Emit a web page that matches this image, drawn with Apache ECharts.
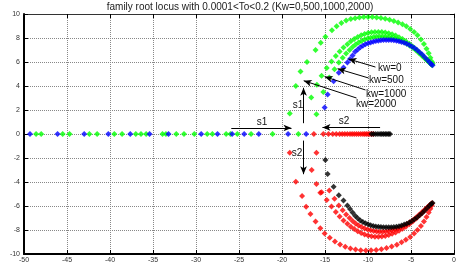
<!DOCTYPE html>
<html>
<head>
<meta charset="utf-8">
<script src="https://cdn.jsdelivr.net/npm/echarts@6/dist/echarts.min.js"></script>
<style>
  html, body { margin: 0; padding: 0; background: #fff; }
  #chart { width: 459px; height: 268px; }
</style>
</head>
<body>
<div id="chart"></div>
<script>
// axis ticks
const xTicks = [-50, 0, 5];   // min, max, step
const yTicks = [-10, 10, 2];

// s1 branch (upper half), one list per kw
const s1Kw0 = [[-15.05,2.2],[-14.7,3.3],[-14.0,4.4],[-13.4,5.1],[-12.85,5.55],[-12.4,5.95],[-12.1,6.25],[-11.8,6.55],[-11.5,6.85],[-11.2,7.05],[-10.9,7.22],[-10.6,7.36],[-10.3,7.47],[-10.0,7.56],[-9.7,7.63],[-9.4,7.69],[-9.1,7.74],[-8.8,7.78],[-8.5,7.81],[-8.2,7.83],[-7.9,7.84],[-7.6,7.84],[-7.3,7.83],[-7.0,7.81],[-6.7,7.78],[-6.4,7.73],[-6.1,7.67],[-5.8,7.6],[-5.5,7.52],[-5.2,7.42],[-4.9,7.3],[-4.6,7.16],[-4.3,7.0],[-4.0,6.82],[-3.7,6.62],[-3.4,6.4],[-3.1,6.17],[-2.85,5.97],[-2.65,5.82],[-2.5,5.72]];
const s1Kw500 = [[-16.0,1.65],[-15.2,3.5],[-14.5,4.7],[-13.9,5.4],[-13.4,5.95],[-12.95,6.35],[-12.55,6.7],[-12.15,7.0],[-11.8,7.25],[-11.45,7.45],[-11.1,7.62],[-10.75,7.76],[-10.4,7.87],[-10.05,7.96],[-9.7,8.03],[-9.35,8.08],[-9.0,8.11],[-8.65,8.13],[-8.3,8.13],[-7.95,8.11],[-7.6,8.08],[-7.25,8.03],[-6.9,7.96],[-6.55,7.88],[-6.2,7.78],[-5.85,7.66],[-5.5,7.52],[-5.15,7.36],[-4.8,7.18],[-4.45,6.98],[-4.1,6.76],[-3.75,6.53],[-3.4,6.3],[-3.1,6.1],[-2.85,5.93],[-2.6,5.78]];
const s1Kw1000 = [[-16.6,3.05],[-15.95,4.1],[-15.4,4.85],[-14.8,5.5],[-14.25,6.05],[-13.75,6.5],[-13.3,6.88],[-12.85,7.2],[-12.4,7.48],[-12.0,7.72],[-11.6,7.92],[-11.2,8.08],[-10.8,8.22],[-10.4,8.33],[-10.0,8.41],[-9.6,8.47],[-9.2,8.5],[-8.8,8.51],[-8.4,8.5],[-8.0,8.46],[-7.6,8.4],[-7.2,8.31],[-6.8,8.2],[-6.4,8.07],[-6.0,7.91],[-5.6,7.73],[-5.2,7.52],[-4.8,7.29],[-4.4,7.04],[-4.0,6.78],[-3.65,6.53],[-3.3,6.28],[-3.0,6.06],[-2.75,5.88],[-2.55,5.76]];
const s1Kw2000 = [[-19.1,1.7],[-18.4,4.0],[-17.85,5.2],[-17.1,6.0],[-16.1,7.0],[-15.5,7.6],[-14.95,8.1],[-14.2,8.65],[-13.65,8.98],[-13.1,9.25],[-12.55,9.45],[-12.0,9.58],[-11.5,9.65],[-11.0,9.71],[-10.5,9.74],[-10.0,9.75],[-9.5,9.74],[-9.0,9.71],[-8.5,9.66],[-8.0,9.6],[-7.5,9.52],[-7.0,9.42],[-6.5,9.3],[-6.0,9.15],[-5.55,8.97],[-5.1,8.75],[-4.65,8.5],[-4.25,8.22],[-3.85,7.88],[-3.5,7.5],[-3.2,7.1],[-2.95,6.72],[-2.75,6.35],[-2.6,6.05],[-2.5,5.85]];

// s2 branch (lower half)
const s2Kw0 = [[-14.96,-2.17],[-14.7,-3.33],[-14.0,-4.4],[-13.4,-5.1],[-12.85,-5.55],[-12.4,-5.95],[-12.1,-6.25],[-11.8,-6.55],[-11.5,-6.82],[-11.2,-7.02],[-10.9,-7.2],[-10.6,-7.33],[-10.3,-7.44],[-10.0,-7.53],[-9.7,-7.6],[-9.4,-7.66],[-9.1,-7.7],[-8.8,-7.73],[-8.5,-7.75],[-8.2,-7.77],[-7.9,-7.78],[-7.6,-7.78],[-7.3,-7.77],[-7.0,-7.75],[-6.7,-7.72],[-6.4,-7.68],[-6.1,-7.62],[-5.8,-7.55],[-5.5,-7.47],[-5.2,-7.37],[-4.9,-7.25],[-4.6,-7.11],[-4.3,-6.95],[-4.0,-6.78],[-3.7,-6.58],[-3.4,-6.37],[-3.1,-6.15],[-2.85,-5.95],[-2.65,-5.82],[-2.5,-5.75]];
const s2Kw500 = [[-16.0,-1.56],[-15.55,-4.9],[-14.5,-4.7],[-13.9,-5.4],[-13.4,-5.95],[-12.95,-6.35],[-12.55,-6.7],[-12.15,-7.0],[-11.8,-7.25],[-11.45,-7.45],[-11.1,-7.62],[-10.75,-7.76],[-10.4,-7.87],[-10.05,-7.96],[-9.7,-8.03],[-9.35,-8.08],[-9.0,-8.12],[-8.65,-8.14],[-8.3,-8.14],[-7.95,-8.12],[-7.6,-8.08],[-7.25,-8.03],[-6.9,-7.96],[-6.55,-7.88],[-6.2,-7.78],[-5.85,-7.66],[-5.5,-7.52],[-5.15,-7.36],[-4.8,-7.18],[-4.45,-6.98],[-4.1,-6.76],[-3.75,-6.53],[-3.4,-6.3],[-3.1,-6.1],[-2.85,-5.93],[-2.6,-5.8]];
const s2Kw1000 = [[-16.55,-3.0],[-16.0,-4.17],[-15.4,-4.85],[-14.8,-5.5],[-14.25,-6.05],[-13.75,-6.5],[-13.3,-6.88],[-12.85,-7.2],[-12.4,-7.48],[-12.0,-7.72],[-11.6,-7.92],[-11.2,-8.1],[-10.8,-8.25],[-10.4,-8.37],[-10.0,-8.46],[-9.6,-8.52],[-9.2,-8.56],[-8.8,-8.57],[-8.4,-8.55],[-8.0,-8.5],[-7.6,-8.42],[-7.2,-8.32],[-6.8,-8.2],[-6.4,-8.06],[-6.0,-7.9],[-5.6,-7.72],[-5.2,-7.52],[-4.8,-7.29],[-4.4,-7.04],[-4.0,-6.78],[-3.65,-6.53],[-3.3,-6.28],[-3.0,-6.06],[-2.75,-5.9],[-2.55,-5.78]];
const s2Kw2000 = [[-19.1,-1.56],[-18.4,-3.97],[-17.67,-5.17],[-17.2,-6.06],[-16.7,-6.67],[-16.1,-7.3],[-15.55,-7.85],[-15.05,-8.3],[-14.45,-8.65],[-13.85,-8.95],[-13.25,-9.2],[-12.65,-9.4],[-12.05,-9.54],[-11.45,-9.63],[-10.85,-9.68],[-10.25,-9.7],[-9.65,-9.69],[-9.05,-9.66],[-8.45,-9.6],[-7.85,-9.51],[-7.25,-9.38],[-6.65,-9.22],[-6.1,-9.03],[-5.6,-8.82],[-5.1,-8.58],[-4.65,-8.3],[-4.25,-8.0],[-3.85,-7.66],[-3.5,-7.3],[-3.2,-6.92],[-2.95,-6.55],[-2.75,-6.22],[-2.6,-5.95]];

// real-axis roots (x only, y = 0)
const realBlue  = [-49.3,-46.1,-43.0,-40.2,-37.65,-35.4,-33.2,-29.4,-27.5,-25.8,-24.4,-22.7,-19.3,-17.2];
const realGreen = [-48.6,-48.0,-45.5,-44.7,-42.4,-41.5,-39.5,-38.6,-37.0,-36.4,-35.8,-33.9,-33.5,-32.3,-31.4,-30.2,-28.7,-28.1,-26.5,-26.0,-25.2,-23.6,-21.1,-18.1];
const realRed   = [-16.3,-15.2,-14.6,-14.1,-13.7,-13.3,-13.0,-12.7,-12.4,-12.1,-11.85,-11.6,-11.35,-11.1,-10.85,-10.6,-10.4,-10.2,-10.0,-9.8,-9.6,-9.4];
const realBlack = [-9.6,-9.35,-9.1,-8.85,-8.6,-8.4,-8.2,-8.0,-7.8,-7.6,-7.45];

// annotation arrows: [from, to] in data units
const arrows = [
  [[-25.9, 0.5], [-18.9, 0.5]],
  [[-17.5, 0.9], [-17.5, 3.85]],
  [[-8.6, 0.55], [-15.3, 0.55]],
  [[-17.5, -0.55], [-17.5, -3.35]],
  [[-9.14, 5.58], [-12.27, 6.25]],
  [[-9.95, 4.67], [-13.54, 5.44]],
  [[-10.3, 3.67], [-15.05, 4.78]],
  [[-11.34, 3.0], [-17.48, 4.44]],
];
const labels = [
  ['s1', 262, 122, 'center'],
  ['s1', 298, 105, 'center'],
  ['s2', 344, 121, 'center'],
  ['s2', 297, 153, 'center'],
  ['kw=0', 378, 68, 'left'],
  ['kw=500', 369, 80, 'left'],
  ['kw=1000', 366, 94, 'left'],
  ['kw=2000', 356, 104, 'left'],
];

const FONT = '"Liberation Sans", Arial, sans-serif';
const onAxis = (xs) => xs.map((x) => [x, 0]);

function dots(name, color, data, z) {
  return {
    name, type: 'scatter', data, z,
    symbol: 'diamond', symbolSize: 6,
    itemStyle: { color },
    silent: true,
  };
}

function axisX(pos, main) {
  return {
    type: 'value', position: pos,
    min: xTicks[0], max: xTicks[1], interval: xTicks[2],
    axisLine: { show: true, onZero: false, lineStyle: { color: main ? '#000' : '#333', width: main ? 2 : 1 } },
    axisTick: { show: true, inside: true, length: 4, lineStyle: { color: '#000' } },
    axisLabel: { show: main, fontSize: 7, color: '#333', margin: 3, fontFamily: FONT, showMinLabel: true, showMaxLabel: true },
    splitLine: { show: main, lineStyle: { type: 'dotted', color: '#888', width: 1 } },
  };
}
function axisY(pos, main) {
  return {
    type: 'value', position: pos,
    min: yTicks[0], max: yTicks[1], interval: yTicks[2],
    axisLine: { show: true, onZero: false, lineStyle: { color: main ? '#000' : '#333', width: main ? 2 : 1 } },
    axisTick: { show: true, inside: true, length: 4, lineStyle: { color: '#000' } },
    axisLabel: { show: main, fontSize: 7, color: '#333', margin: 4, fontFamily: FONT, showMinLabel: true, showMaxLabel: true },
    splitLine: { show: main, lineStyle: { type: 'dotted', color: '#888', width: 1 } },
  };
}

const chart = echarts.init(document.getElementById('chart'), null, { renderer: 'canvas' });

chart.setOption({
  animation: false,
  backgroundColor: '#fff',
  grid: { left: 24, right: 3, top: 14, bottom: 14 },
  xAxis: [axisX('bottom', true), axisX('top', false)],
  yAxis: [axisY('left', true), axisY('right', false)],
  graphic: [
    {
      type: 'text', x: 240, y: 7,
      style: {
        text: 'family root locus with 0.0001<To<0.2 (Kw=0,500,1000,2000)',
        font: '10px ' + FONT, fill: '#222', align: 'center', verticalAlign: 'middle',
      },
    },
    ...labels.map(([t, x, y, a]) => ({
      type: 'text', x, y, z: 100,
      style: { text: t, font: '10px ' + FONT, fill: '#111', align: a, verticalAlign: 'middle' },
    })),
  ],
  series: [
    dots('s1 kw>0', '#00ff00', [...s1Kw2000, ...s1Kw1000, ...s1Kw500, ...onAxis(realGreen)], 2),
    dots('s1 kw=0', '#0000ff', [...s1Kw0, ...onAxis(realBlue)], 3),
    dots('s2 kw>0', '#ff0000', [...s2Kw2000, ...s2Kw1000, ...s2Kw500, ...onAxis(realRed)], 4),
    dots('s2 kw=0', '#000000', [...s2Kw0, ...onAxis(realBlack)], 5),
    {
      name: 'notes', type: 'line', data: [], z: 10, silent: true,
      markLine: {
        silent: true,
        symbol: ['none', 'arrow'],
        symbolSize: [5, 8],
        label: { show: false },
        lineStyle: { color: '#000', width: 1, type: 'solid' },
        data: arrows.map(([a, b]) => [{ coord: a }, { coord: b }]),
      },
    },
  ],
});
</script>
</body>
</html>
